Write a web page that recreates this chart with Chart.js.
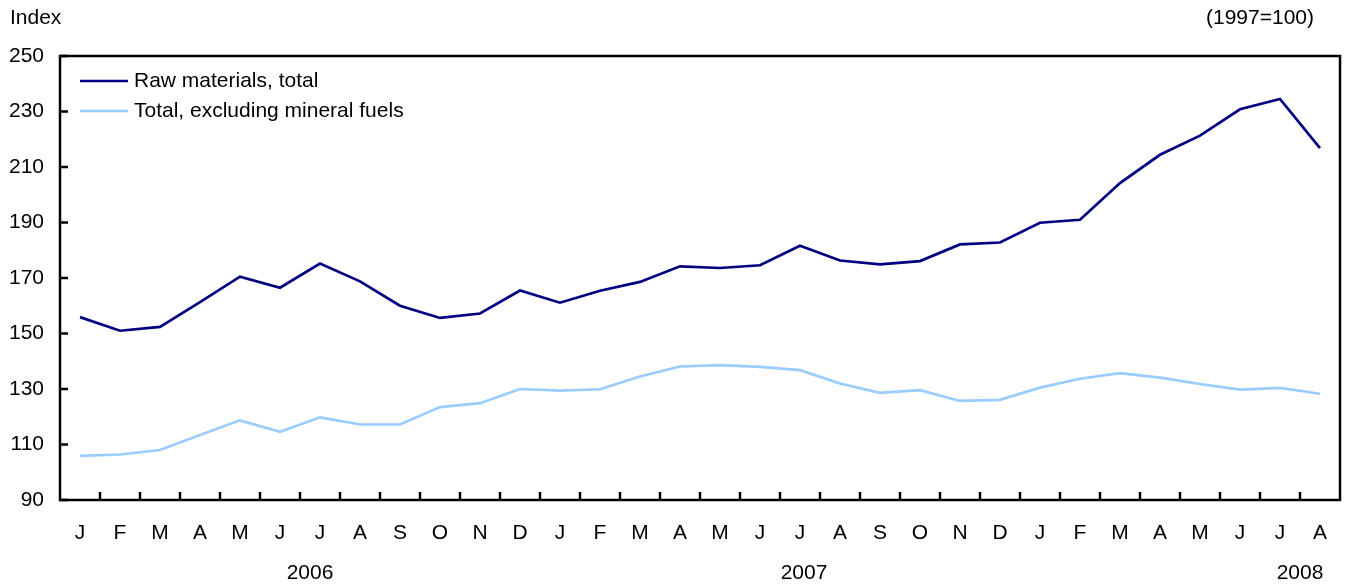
<!DOCTYPE html>
<html>
<head>
<meta charset="utf-8">
<script src="https://cdn.jsdelivr.net/npm/chart.js@4"></script>
<style>
  body { margin: 0; background: #fff; }
  canvas { display: block; }
</style>
</head>
<body>
<canvas id="raw_chart" width="1346" height="585"></canvas>
<script>
// months, Jan 2006 - Aug 2008
const months = ['J','F','M','A','M','J','J','A','S','O','N','D',
                'J','F','M','A','M','J','J','A','S','O','N','D',
                'J','F','M','A','M','J','J','A'];
const years = ['2006', '2007', '2008'];
const yearPos = [5.75, 18.1, 30.5]; // category index under which the year sits

const rawTotal = [155.9, 151.0, 152.4, 161.3, 170.5, 166.5, 175.2, 168.8, 160.0, 155.6, 157.2, 165.5,
                  161.1, 165.4, 168.6, 174.2, 173.6, 174.6, 181.6, 176.3, 174.9, 176.1, 182.1, 182.8,
                  189.9, 191.0, 204.2, 214.4, 221.3, 230.8, 234.5, 216.8];
const exclFuels = [105.9, 106.4, 108.0, 113.4, 118.7, 114.6, 119.8, 117.2, 117.2, 123.5, 124.9, 130.0,
                   129.4, 129.9, 134.5, 138.1, 138.6, 138.0, 136.8, 132.0, 128.6, 129.6, 125.7, 126.1,
                   130.5, 133.7, 135.7, 134.1, 131.8, 129.8, 130.4, 128.3];
const seriesNames = ['Raw materials, total', 'Total, excluding mineral fuels'];
const seriesColors = ['#000080', '#99ccff'];
const yMin = 90, yMax = 250, yStep = 20;

const FONT = '"Liberation Sans", Arial, Helvetica, sans-serif';
const FSIZE = 21;

// frame, inward ticks, legend, year labels, titles
const extras = {
	id: 'extras',
	afterDraw(chart) {
		const c = chart.ctx;
		const a = chart.chartArea;
		const xs = chart.scales.x, ys = chart.scales.y;
		c.save();
		c.strokeStyle = '#000';
		c.lineWidth = 2.5;
		c.strokeRect(a.left, a.top, a.right - a.left, a.bottom - a.top);

		// y ticks pointing in
		c.beginPath();
		for (let v = yMin; v <= yMax; v += yStep) {
			const y = ys.getPixelForValue(v);
			c.moveTo(a.left, y);
			c.lineTo(a.left + 8, y);
		}
		// x ticks between months, pointing up
		for (let i = 1; i < months.length; i++) {
			const x = (xs.getPixelForValue(i - 1) + xs.getPixelForValue(i)) / 2;
			c.moveTo(x, a.bottom);
			c.lineTo(x, a.bottom - 8);
		}
		c.stroke();

		c.fillStyle = '#000';
		c.font = FSIZE + 'px ' + FONT;
		c.textBaseline = 'middle';

		// legend
		chart.data.datasets.forEach((ds, i) => {
			const y = a.top + 25 + i * 30;
			c.strokeStyle = ds.borderColor;
			c.lineWidth = 2.5;
			c.beginPath();
			c.moveTo(a.left + 20, y);
			c.lineTo(a.left + 68, y);
			c.stroke();
			c.textAlign = 'left';
			c.fillText(ds.label, a.left + 74, y);
		});

		// years
		c.textAlign = 'center';
		years.forEach((yr, i) => {
			c.fillText(yr, xs.getPixelForValue(yearPos[i]), 573);
		});

		// titles
		c.textAlign = 'left';
		c.fillText('Index', 10, 18);
		c.textAlign = 'right';
		c.fillText('(1997=100)', 1314, 18);
		c.restore();
	}
};

const ctx = document.getElementById('raw_chart').getContext('2d');
const raw_chart = new Chart(ctx, {
	type: 'line',
	data: {
		labels: months,
		datasets: [{
			label: seriesNames[0],
			data: rawTotal,
			borderColor: seriesColors[0],
			borderWidth: 2.7,
			pointRadius: 0,
			tension: 0
		}, {
			label: seriesNames[1],
			data: exclFuels,
			borderColor: seriesColors[1],
			borderWidth: 2.7,
			pointRadius: 0,
			tension: 0
		}]
	},
	options: {
		responsive: false,
		animation: false,
		layout: {
			padding: { top: 56, right: 6, left: 0, bottom: 0 }
		},
		plugins: {
			legend: { display: false },
			tooltip: { enabled: false }
		},
		scales: {
			x: {
				offset: true,
				grid: { display: false },
				border: { display: false },
				ticks: {
					color: '#000',
					font: { family: FONT, size: FSIZE },
					padding: 13,
					maxRotation: 0,
					autoSkip: false
				},
				afterFit: (s) => { s.height = 85; }
			},
			y: {
				min: yMin,
				max: yMax,
				grid: { display: false },
				border: { display: false },
				ticks: {
					stepSize: yStep,
					color: '#000',
					font: { family: FONT, size: FSIZE },
					padding: 8
				},
				afterFit: (s) => { s.width = 60; }
			}
		}
	},
	plugins: [extras]
});
</script>
</body>
</html>
